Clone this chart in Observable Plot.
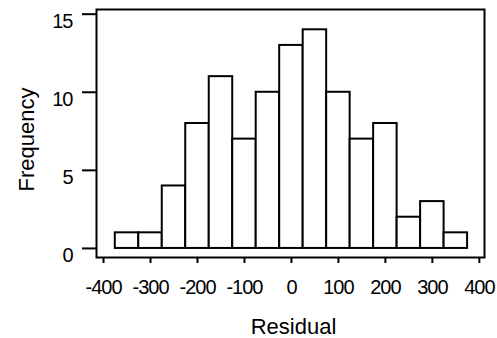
<!DOCTYPE html>
<html><head><meta charset="utf-8">
<script src="https://cdn.jsdelivr.net/npm/d3@7"></script>
<script src="https://cdn.jsdelivr.net/npm/@observablehq/plot@0.6"></script>
<style>
body{margin:0;background:#fff}
svg{display:block}
g[aria-label="x-axis tick label"] text, g[aria-label="y-axis tick label"] text {letter-spacing:-1px}
</style>
</head><body><div id="chart"></div>
<script>
const binLower = [-375,-325,-275,-225,-175,-125,-75,-25,25,75,125,175,225,275,325];
const binUpper = [-325,-275,-225,-175,-125,-75,-25,25,75,125,175,225,275,325,375];
const frequency = [1,1,4,8,11,7,10,13,14,10,7,8,2,3,1];
const xTicks = [-400,-300,-200,-100,0,100,200,300,400];
const yTicks = [0,5,10,15];
const xLabel = "Residual";
const yLabel = "Frequency";

const bins = binLower.map((lo, i) => ({lo, hi: binUpper[i], n: frequency[i]}));
const fmt = d => String(d);

const chart = Plot.plot({
  width: 497, height: 338,
  marginLeft: 96, marginRight: 13, marginTop: 9, marginBottom: 81,
  style: {fontFamily: "'Liberation Sans', Arial, sans-serif", background: "white", color: "black"},
  x: {domain: [-415, 411]},
  y: {domain: [-0.58, 15.3]},
  marks: [
    Plot.rect(bins, {x1: "lo", x2: "hi", y1: 0, y2: "n", fill: "white", stroke: "black", strokeWidth: 2}),
    Plot.frame({stroke: "black", strokeWidth: 2}),
    Plot.axisY({ticks: yTicks, tickSize: 14, strokeWidth: 2, text: null, label: null}),
    Plot.axisY({ticks: yTicks, tickSize: 0, tickPadding: 24, fontSize: 20, dy: 7, tickFormat: fmt, label: null}),
    Plot.axisX({ticks: xTicks, tickSize: 6, tickPadding: 16, fontSize: 20, strokeWidth: 2, tickFormat: fmt, label: null}),
    Plot.text([xLabel], {frameAnchor: "bottom", textAnchor: "middle", dx: 3, dy: 69, lineAnchor: "middle", fontSize: 22, fill: "black"}),
    Plot.text([yLabel], {frameAnchor: "left", textAnchor: "middle", dx: -70, dy: 6, rotate: -90, lineAnchor: "middle", fontSize: 22, fill: "black"})
  ]
});
document.getElementById("chart").appendChild(chart);
</script>
</body></html>
